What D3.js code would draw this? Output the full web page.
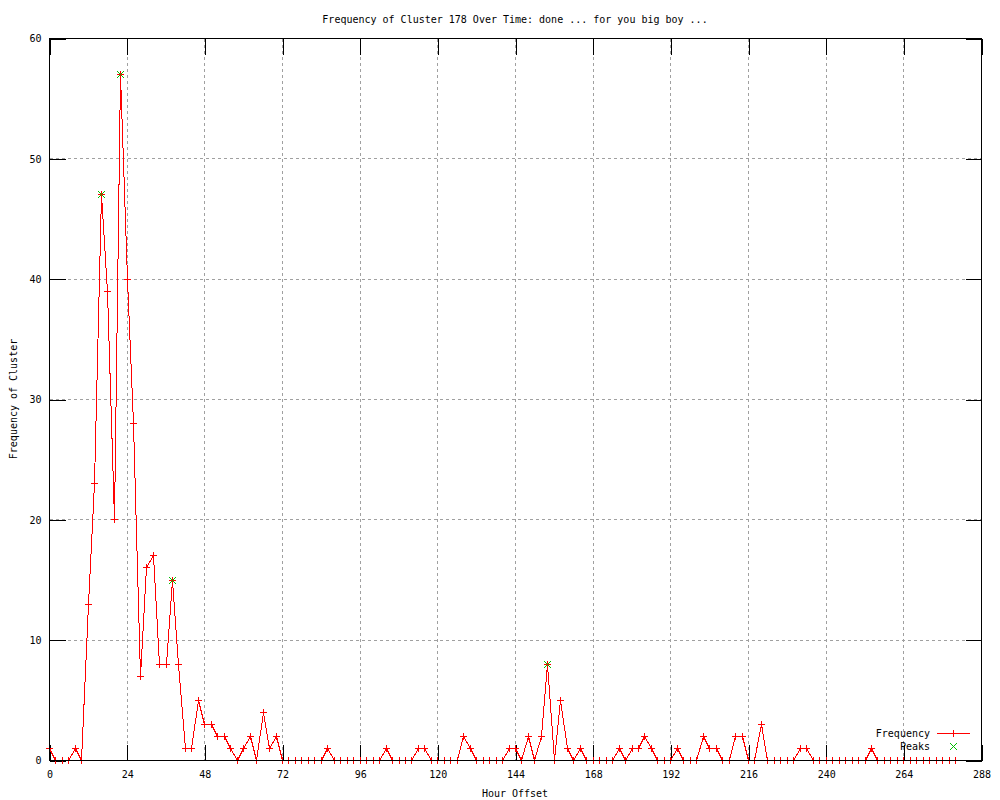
<!DOCTYPE html>
<html>
<head>
<meta charset="utf-8">
<script src="https://cdn.jsdelivr.net/npm/d3@7"></script>
<style>
  html, body { margin: 0; padding: 0; background: #fff; }
  svg { display: block; }
  text { font-family: "DejaVu Sans Mono", "Liberation Mono", monospace; font-size: 10px; fill: #000; }
</style>
</head>
<body>
<svg id="chart" width="1000" height="800"></svg>
<script>
// ---- data ----
const titleText = "Frequency of Cluster 178 Over Time: done ... for you big boy ...";
const xLabelText = "Hour Offset";
const yLabelText = "Frequency of Cluster";
const legendLabels = ["Frequency", "Peaks"];

const hours = d3.range(0, 281, 2);
const frequency = [
  1, 0, 0, 0, 1, 0, 13, 23, 47, 39,      // 0-18
  20, 57, 40, 28, 7, 16, 17, 8, 8, 15,   // 20-38
  8, 1, 1, 5, 3, 3, 2, 2, 1, 0,          // 40-58
  1, 2, 0, 4, 1, 2, 0, 0, 0, 0,          // 60-78
  0, 0, 0, 1, 0, 0, 0, 0, 0, 0,          // 80-98
  0, 0, 1, 0, 0, 0, 0, 1, 1, 0,          // 100-118
  0, 0, 0, 0, 2, 1, 0, 0, 0, 0,          // 120-138
  0, 1, 1, 0, 2, 0, 2, 8, 0, 5,          // 140-158
  1, 0, 1, 0, 0, 0, 0, 0, 1, 0,          // 160-178
  1, 1, 2, 1, 0, 0, 0, 1, 0, 0,          // 180-198
  0, 2, 1, 1, 0, 0, 2, 2, 0, 0,          // 200-218
  3, 0, 0, 0, 0, 0, 1, 1, 0, 0,          // 220-238
  0, 0, 0, 0, 0, 0, 0, 1, 0, 0,          // 240-258
  0, 0, 0, 0, 0, 0, 0, 0, 0, 0,          // 260-278
  0                                      // 280
];
const peakHours = [16, 22, 38, 154];
const peakValues = [47, 57, 15, 8];

const xTicks = d3.range(0, 289, 24);
const yTicks = d3.range(0, 61, 10);

// ---- layout ----
const svg = d3.select("#chart");
const L = 49.5, R = 981.5, T = 38.5, B = 760.5;
const x = d3.scaleLinear().domain([0, 288]).range([L, R]);
const y = d3.scaleLinear().domain([0, 60]).range([B, T]);
const snap = v => Math.round(v - 0.5) + 0.5;
const RED = "#ff0000", GREEN = "#00c000";

svg.append("rect").attr("width", 1000).attr("height", 800).attr("fill", "#fff");

// grid
const grid = svg.append("g").style("stroke", "#a0a0a0").attr("stroke-dasharray", "3,3")
  .attr("shape-rendering", "crispEdges");
grid.selectAll("line.gx").data(xTicks.filter(t => t > 0 && t < 288)).join("line")
  .attr("x1", d => snap(x(d))).attr("x2", d => snap(x(d))).attr("y1", T).attr("y2", B);
grid.selectAll("line.gy").data(yTicks.filter(t => t > 0 && t < 60)).join("line")
  .attr("y1", d => snap(y(d))).attr("y2", d => snap(y(d))).attr("x1", L).attr("x2", R);

// axes (ticks inward, mirrored)
function styleAxis(g) {
  g.select(".domain").remove();
  g.selectAll("line").style("stroke", "#000").attr("shape-rendering", "crispEdges");
  g.selectAll("text").attr("font-family", "DejaVu Sans Mono, monospace").attr("font-size", 10).attr("fill", "#000");
}
svg.append("g").attr("transform", `translate(0,${B})`)
  .call(d3.axisBottom(x).tickValues(xTicks).tickSize(-16).tickPadding(10).tickFormat(d3.format("d")))
  .call(styleAxis);
svg.append("g").attr("transform", `translate(0,${T})`)
  .call(d3.axisTop(x).tickValues(xTicks).tickSize(-16).tickFormat(""))
  .call(styleAxis);
svg.append("g").attr("transform", `translate(${L},0)`)
  .call(d3.axisLeft(y).tickValues(yTicks).tickSize(-16).tickPadding(8).tickFormat(d3.format("d")))
  .call(styleAxis);
svg.append("g").attr("transform", `translate(${R},0)`)
  .call(d3.axisRight(y).tickValues(yTicks).tickSize(-16).tickFormat(""))
  .call(styleAxis);

// data line
const pts = hours.map((h, i) => [h, frequency[i]]);
svg.append("path").datum(pts)
  .style("fill", "none").style("stroke", RED).attr("stroke-width", 1)
  .attr("shape-rendering", "crispEdges")
  .attr("d", d3.line().x(d => snap(x(d[0]))).y(d => snap(y(d[1]))));

// + markers
const plusPath = (cx, cy, s) => `M${cx - s},${cy}H${cx + s}M${cx},${cy - s}V${cy + s}`;
const xPath = (cx, cy, s) => `M${cx - s},${cy - s}L${cx + s},${cy + s}M${cx - s},${cy + s}L${cx + s},${cy - s}`;
svg.append("g").selectAll("path").data(pts).join("path")
  .attr("d", d => plusPath(snap(x(d[0])), snap(y(d[1])), 3.5))
  .style("stroke", RED).style("fill", "none").attr("shape-rendering", "crispEdges");

// peaks
const peaks = peakHours.map((h, i) => [h, peakValues[i]]);
svg.append("g").selectAll("path").data(peaks).join("path")
  .attr("d", d => xPath(snap(x(d[0])), snap(y(d[1])), 3.5))
  .style("stroke", GREEN).style("fill", "none").attr("shape-rendering", "crispEdges");

// frame
svg.append("rect").attr("x", L).attr("y", T).attr("width", R - L).attr("height", B - T)
  .style("fill", "none").style("stroke", "#000").attr("shape-rendering", "crispEdges");

// titles
svg.append("text").attr("x", 515).attr("y", 19).attr("text-anchor", "middle")
  .attr("dominant-baseline", "central").text(titleText);
svg.append("text").attr("x", 515).attr("y", 793).attr("text-anchor", "middle")
  .attr("dominant-baseline", "central").text(xLabelText);
svg.append("text").attr("transform", "translate(13,399) rotate(-90)").attr("text-anchor", "middle")
  .attr("dominant-baseline", "central").text(yLabelText);

// legend
const leg = svg.append("g");
leg.append("text").attr("x", 930).attr("y", 733).attr("text-anchor", "end")
  .attr("dominant-baseline", "central").text(legendLabels[0]);
leg.append("line").attr("x1", 937).attr("x2", 970).attr("y1", 733.5).attr("y2", 733.5)
  .style("stroke", RED).attr("shape-rendering", "crispEdges");
leg.append("path").attr("d", plusPath(953.5, 733.5, 3.5)).style("stroke", RED)
  .style("fill", "none").attr("shape-rendering", "crispEdges");
leg.append("text").attr("x", 930).attr("y", 746).attr("text-anchor", "end")
  .attr("dominant-baseline", "central").text(legendLabels[1]);
leg.append("path").attr("d", xPath(953.5, 746.5, 3.5)).style("stroke", GREEN)
  .style("fill", "none").attr("shape-rendering", "crispEdges");
</script>
</body>
</html>
